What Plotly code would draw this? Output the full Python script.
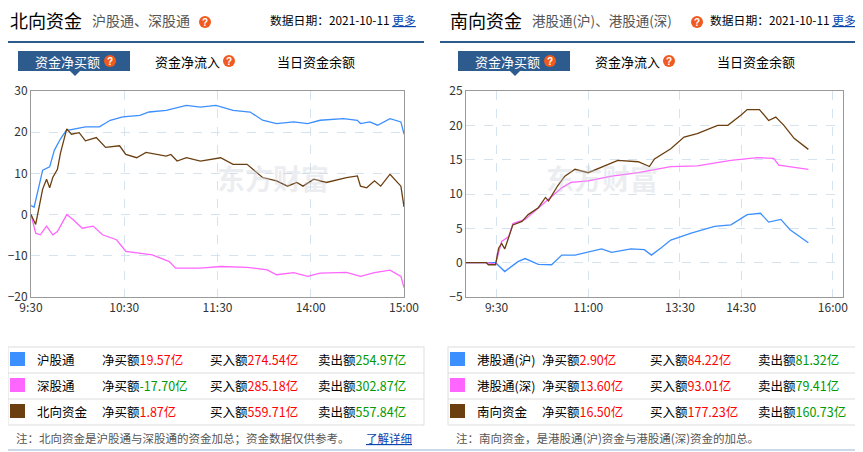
import plotly.graph_objects as go

W, H = 855, 444
OFF = 8
def px(x): return (x - OFF) / W
def py(y): return 1 - (y - OFF) / H

# ---- North-bound data (x = trading-minute index, 0=9:30, 240=15:00) ----
n_sh_x = [0,2,7.5,12,15,19,22.6,29,35,44,51,59,70,76,87,100,109,119,130,141,149,158,169,178,186,201,210,212,218,223,231,238,240]
n_sh_y = [2.2,1.8,10.8,11.6,15.6,18.4,20.4,20.8,21.3,21.3,22.9,23.7,24.1,24.9,25.3,26.5,26.1,26.5,25.3,24.9,22.9,22.1,22.5,22.1,22.9,23.3,22.9,22.1,22.5,21.7,23.3,22.5,19.57]
n_sz_x = [0,3,6,10,14,17,23,27,33,40,46,55,61,70,78,89,93,109,122,139,152,158,169,178,186,203,212,221,231,238,240]
n_sz_y = [0,-4.5,-4.9,-2.8,-4.9,-4.1,0,-1.2,-3.3,-2.8,-4.9,-6.1,-8.9,-9.4,-9.8,-11.4,-13,-13,-12.6,-12.8,-13.4,-14.6,-14.1,-15,-14.2,-14,-15,-14.1,-13.5,-15,-17.7]
n_all_x = [0,3,7.5,10,12,14,17,19,23,26,31,35,42,48,57,61,68,74,87,90,94,100,109,122,130,139,149,158,165,171,175,182,190,203,210,212,216,221,225,231,238,240]
n_all_y = [0,-2.4,6.2,8.6,6.5,9,11,15,20.8,19.5,19.9,17.9,18.7,16.3,16.7,14.6,13.8,15.1,14.2,14.6,13,13.8,13,13.8,12.2,12.2,9,8.2,6.9,7.8,6.9,8.6,7.8,9,9.4,6.9,6.5,8.2,6.9,9.8,6.9,1.87]
n_ticks = [0, 60, 120, 180, 240]
n_tick_labels = ["9:30", "10:30", "11:30", "14:00", "15:00"]

# ---- South-bound data (x = minute index, 0=9:00, lunch removed) ----
s_sh_x = [0,29,38,51,58,71,84,94,107,120,133,143,162,175,182,191,201,221,244,260,276,289,297,309,318,336]
s_sh_y = [0,0,-1.3,0.15,0.6,-0.25,-0.3,1.1,1.1,1.6,2,1.5,2,1.9,1.1,2.1,3.3,4.3,5.3,5.5,7,7.2,5.9,6.3,4.8,2.9]
s_sz_x = [0,20,29,35,42,46,58,71,84,94,103,120,143,169,201,227,260,286,302,307,336]
s_sz_y = [0,0,-0.2,3.1,3.8,5.7,6.3,8,9.7,10.9,11.7,11.9,12.6,13.1,14,14.1,14.9,15.3,15.2,14.2,13.6]
s_all_x = [0,20,22,29,32,35,38,46,55,61,71,78,81,90,97,107,120,133,149,169,180,185,201,214,227,247,257,270,276,288,297,304,312,322,336]
s_all_y = [0,0,-0.3,-0.3,2.1,2.8,2,5.5,6,7,8,9.5,9,11.2,12.6,13.6,13.1,13.9,14.9,14.7,14,15.1,16.6,18.3,18.8,20,20,21.5,22.3,22.3,20.7,21.2,20,18.1,16.5]
s_ticks = [30, 120, 210, 270, 360]
s_tick_labels = ["9:30", "11:00", "13:30", "14:30", "16:00"]

BLUE, PINK, BROWN = "#3c8fff", "#ff66ff", "#6b3f10"
FONT = "Noto Sans CJK SC"

fig = go.Figure()
for x, y, c in [(n_sh_x, n_sh_y, BLUE), (n_sz_x, n_sz_y, PINK), (n_all_x, n_all_y, BROWN)]:
    fig.add_trace(go.Scatter(x=x, y=y, mode="lines", line=dict(color=c, width=1.3), xaxis="x", yaxis="y"))
for x, y, c in [(s_sh_x, s_sh_y, BLUE), (s_sz_x, s_sz_y, PINK), (s_all_x, s_all_y, BROWN)]:
    fig.add_trace(go.Scatter(x=x, y=y, mode="lines", line=dict(color=c, width=1.3), xaxis="x2", yaxis="y2"))

ax = dict(showline=True, linecolor="#999", mirror=True, linewidth=1, showgrid=True, automargin=False,
          gridcolor="#d5e3ef", griddash="dash", zeroline=False, ticks="",
          tickfont=dict(family=FONT, size=12, color="#333"), fixedrange=True)
ydom = [py(297), py(91)]
fig.update_layout(
    width=W, height=H, margin=dict(l=0, r=0, t=0, b=0, pad=0, autoexpand=False), showlegend=False,
    paper_bgcolor="white", plot_bgcolor="white",
    xaxis=dict(ax, domain=[px(31), px(404)], range=[0, 240], tickvals=n_ticks, ticktext=n_tick_labels),
    yaxis=dict(ax, domain=ydom, range=[-20, 30], dtick=10, anchor="x"),
    xaxis2=dict(ax, domain=[px(466), px(843)], range=[0, 370], tickvals=s_ticks, ticktext=s_tick_labels, anchor="y2"),
    yaxis2=dict(ax, domain=ydom, range=[-5, 25], dtick=5, anchor="x2"),
)

ann, shapes = [], []
def T(x, y, text, size=12, color="#000", xanchor="left"):
    ann.append(dict(x=px(x), y=py(y), xref="paper", yref="paper", text=text, showarrow=False,
                    xanchor=xanchor, yanchor="middle", font=dict(family=FONT, size=size, color=color)))
def Q(x, y):
    shapes.append(dict(type="circle", xref="paper", yref="paper", x0=px(x-6), x1=px(x+6), y0=py(y+6), y1=py(y-6),
                       fillcolor="#f05a1e", line=dict(width=0)))
    ann.append(dict(x=px(x), y=py(y), xref="paper", yref="paper", text="<b>?</b>", showarrow=False,
                    xanchor="center", yanchor="middle", borderpad=0,
                    font=dict(family="Liberation Sans", size=10, color="white")))

panels = [
    (0, "北向资金", "沪股通、深股通", 205,
     [(BLUE, "沪股通", "19.57", "274.54", "254.97", True),
      (PINK, "深股通", "-17.70", "285.18", "302.87", False),
      (BROWN, "北向资金", "1.87", "559.71", "557.84", True)],
     "注：北向资金是沪股通与深股通的资金加总；资金数据仅供参考。", True),
    (440, "南向资金", "港股通(沪)、港股通(深)", 257,
     [(BLUE, "港股通(沪)", "2.90", "84.22", "81.32", True),
      (PINK, "港股通(深)", "13.60", "93.01", "79.41", True),
      (BROWN, "南向资金", "16.50", "177.23", "160.73", True)],
     "注：南向资金，是港股通(沪)资金与港股通(深)资金的加总。", False),
]
for ox, title, sub, qx, rows, note, link in panels:
    T(ox+8, 20, title, 18)
    T(ox+90, 20, sub, 14 if ox == 0 else 13.5, "#555")
    Q(ox+qx, 22)
    T(ox+268, 20, "数据日期：2021-10-11 <span style='color:#0645ad'><u>更多</u></span>", 11.8)
    shapes.append(dict(type="line", xref="paper", yref="paper", x0=px(ox+0), x1=px(ox+424),
                       y0=py(42), y1=py(42), line=dict(color="#2d5b8e", width=2)))
    shapes.append(dict(type="rect", xref="paper", yref="paper", x0=px(ox+18), x1=px(ox+130),
                       y0=py(71), y1=py(51), fillcolor="#2d5b8e", line=dict(width=0)))
    shapes.append(dict(type="path", xref="paper", yref="paper",
                       path=f"M {px(ox+70)} {py(71)} L {px(ox+80)} {py(71)} L {px(ox+75)} {py(76)} Z",
                       fillcolor="#2d5b8e", line=dict(width=0)))
    T(ox+33, 61, "资金净买额", 13, "white"); Q(ox+110, 61)
    T(ox+153, 61, "资金净流入", 13); Q(ox+229, 61)
    T(ox+275, 61, "当日资金余额", 13)
    # table
    shapes.append(dict(type="rect", xref="paper", yref="paper", x0=px(ox+8), x1=px(ox+424),
                       y0=py(425), y1=py(347), line=dict(color="#ddd", width=1)))
    for yy in (373, 399):
        shapes.append(dict(type="line", xref="paper", yref="paper", x0=px(ox+8), x1=px(ox+424),
                           y0=py(yy), y1=py(yy), line=dict(color="#ddd", width=1)))
    for i, (c, name, net, buy, sell, pos) in enumerate(rows):
        yc = 359 + i * 26
        shapes.append(dict(type="rect", xref="paper", yref="paper", x0=px(ox+10), x1=px(ox+25),
                           y0=py(yc+7), y1=py(yc-7), fillcolor=c, line=dict(width=0)))
        T(ox+35, yc, name, 12.5)
        nc = "#ff0000" if pos else "#009900"
        T(ox+100, yc, f"净买额<span style='color:{nc}'>{net}亿</span>", 12.5)
        T(ox+208, yc, f"买入额<span style='color:#ff0000'>{buy}亿</span>", 12.5)
        T(ox+316, yc, f"卖出额<span style='color:#009900'>{sell}亿</span>", 12.5)
    T(ox+14, 438, note, 11.5, "#555")
    if link:
        T(ox+364, 438, "<u>了解详细</u>", 11.5, "#0645ad")
    # watermark
    ann.append(dict(x=px(ox+215 if ox == 0 else ox+220), y=py(178), xref="paper", yref="paper", text="<b>东方财富</b>",
                    showarrow=False, font=dict(family=FONT, size=28, color="rgba(200,205,215,0.35)")))
shapes.append(dict(type="line", xref="paper", yref="paper", x0=px(8), x1=px(863), y0=py(450), y1=py(450),
                   line=dict(color="#c9daea", width=2)))
fig.update_layout(annotations=ann, shapes=shapes)
fig.write_html("out.html")
